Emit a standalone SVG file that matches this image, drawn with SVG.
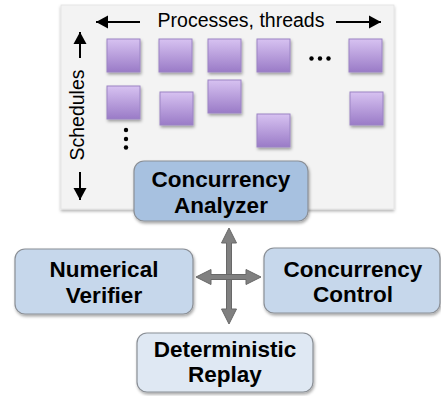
<svg xmlns="http://www.w3.org/2000/svg" width="441" height="396" viewBox="0 0 441 396">
  <defs>
    <linearGradient id="taskFill" x1="0" y1="0" x2="0" y2="1">
      <stop offset="0" stop-color="#d7c2f1"/>
      <stop offset="1" stop-color="#9a7bc7"/>
    </linearGradient>
    <filter id="shadow" x="-10%" y="-10%" width="125%" height="135%">
      <feDropShadow dx="1" dy="2" stdDeviation="1.5" flood-color="#000" flood-opacity="0.35"/>
    </filter>
    <filter id="panelShadow" x="-5%" y="-5%" width="110%" height="115%">
      <feDropShadow dx="0" dy="2" stdDeviation="1.5" flood-color="#000" flood-opacity="0.3"/>
    </filter>
    <marker id="blackHead" markerUnits="userSpaceOnUse" markerWidth="14" markerHeight="14" refX="12" refY="7" orient="auto">
      <path d="M0,0.5 L12,7 L0,13.5 Z" fill="#000"/>
    </marker>
  </defs>
  <style>
    .task { fill: url(#taskFill); stroke: #9b84c4; stroke-width: 1; filter: url(#shadow); }
    .box { stroke: #8a8f96; stroke-width: 1.2; filter: url(#shadow); }
    .label { font-family: "Liberation Sans", Arial, sans-serif; font-weight: bold; font-size: 22.5px; fill: #000; text-anchor: middle; }
    .axis { font-family: "Liberation Sans", Arial, sans-serif; font-size: 19.5px; fill: #000; text-anchor: middle; }
    .axisArrow { stroke: #000; stroke-width: 2; fill: none; marker-end: url(#blackHead); }
    .cross { fill: #808080; stroke: #686868; stroke-width: 1; }
  </style>

  <!-- schedule panel -->
  <g id="schedule-panel">
    <rect x="61" y="5" width="333" height="204" fill="#f3f3f3" stroke="#e2e2e2" stroke-width="0.8" filter="url(#panelShadow)"/>
    <text class="axis" x="241" y="27">Processes, threads</text>
    <line class="axisArrow" x1="140" y1="22" x2="96" y2="22"/>
    <line class="axisArrow" x1="336" y1="22" x2="381" y2="22"/>
    <text class="axis" transform="translate(84,115) rotate(-90)">Schedules</text>
    <line class="axisArrow" x1="80" y1="58" x2="80" y2="32"/>
    <line class="axisArrow" x1="80" y1="172" x2="80" y2="200"/>

    <!-- tasks, first schedule row -->
    <rect class="task" x="107" y="39" width="33" height="33"/>
    <rect class="task" x="159" y="39" width="33" height="33"/>
    <rect class="task" x="208" y="39" width="33" height="33"/>
    <rect class="task" x="257" y="39" width="33" height="33"/>
    <rect class="task" x="349" y="39" width="33" height="33"/>
    <!-- tasks, second schedule row -->
    <rect class="task" x="107" y="86" width="33" height="33"/>
    <rect class="task" x="160" y="92" width="33" height="33"/>
    <rect class="task" x="208" y="80" width="33" height="33"/>
    <rect class="task" x="257" y="114" width="33" height="33"/>
    <rect class="task" x="350" y="92" width="33" height="33"/>

    <!-- ellipses -->
    <circle cx="311.5" cy="58.5" r="2.2"/>
    <circle cx="320" cy="58.5" r="2.2"/>
    <circle cx="328.5" cy="58.5" r="2.2"/>
    <circle cx="126" cy="130" r="2.2"/>
    <circle cx="126" cy="139" r="2.2"/>
    <circle cx="126" cy="147.5" r="2.2"/>
  </g>

  <!-- connectors -->
  <g id="connectors">
    <path class="cross" d="M229,228 L236.5,243 L231.5,243 L231.5,309 L236.5,309 L229,324 L221.5,309 L226.5,309 L226.5,243 L221.5,243 Z"/>
    <path class="cross" d="M196,277 L211,269.5 L211,274.5 L246,274.5 L246,269.5 L261,277 L246,284.5 L246,279.5 L211,279.5 L211,284.5 Z"/>
  </g>

  <g id="concurrency-analyzer">
    <rect class="box" x="134" y="161" width="174" height="60" rx="10" fill="#a7c1e0"/>
    <text class="label" x="221" y="187">Concurrency</text>
    <text class="label" x="221" y="213">Analyzer</text>
  </g>

  <g id="numerical-verifier">
    <rect class="box" x="15" y="249" width="178" height="65" rx="10" fill="#c6d7eb"/>
    <text class="label" x="104" y="277">Numerical</text>
    <text class="label" x="104" y="303">Verifier</text>
  </g>

  <g id="concurrency-control">
    <rect class="box" x="264" y="248" width="176" height="65" rx="10" fill="#c6d7eb"/>
    <text class="label" x="353" y="277">Concurrency</text>
    <text class="label" x="353" y="302">Control</text>
  </g>

  <g id="deterministic-replay">
    <rect class="box" x="137" y="333" width="176" height="59" rx="10" fill="#dfe8f3"/>
    <text class="label" x="225" y="357">Deterministic</text>
    <text class="label" x="225" y="382">Replay</text>
  </g>
</svg>
